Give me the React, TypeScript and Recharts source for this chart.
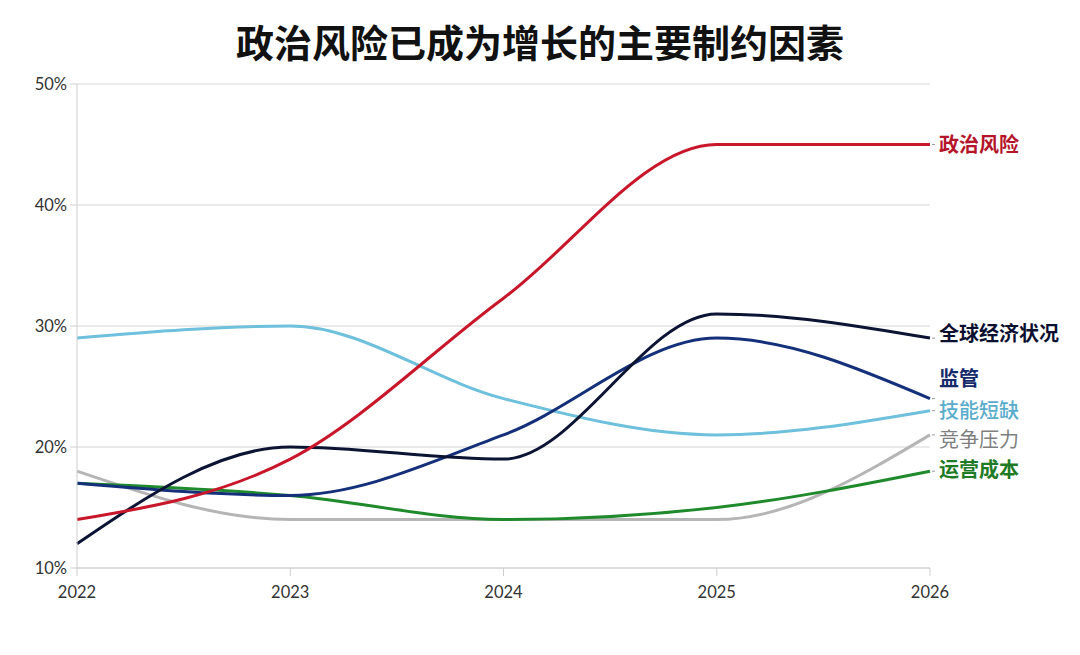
import React from "react";
import { LineChart, Line, XAxis, YAxis, CartesianGrid } from "recharts";

const years = ["2022", "2023", "2024", "2025", "2026"];
const politicalRisk = [14, 19, 32.3, 45, 45];
const globalEconomy = [12, 20, 19, 31, 29];
const regulation = [17, 16, 21, 29, 24];
const skillsShortage = [29, 30, 24, 21, 23];
const competition = [18, 14, 14, 14, 21];
const operatingCost = [17, 16, 14, 15, 18];
const yTicks = [10, 20, 30, 40, 50];

const data = years.map((y, i) => ({
  year: y,
  political: politicalRisk[i],
  economy: globalEconomy[i],
  regulation: regulation[i],
  skills: skillsShortage[i],
  competition: competition[i],
  cost: operatingCost[i],
}));

const FONT = "'Noto Sans CJK SC', 'Noto Sans', sans-serif";
const TICK_FONT = "Lato, 'Noto Sans', sans-serif";

type SeriesDef = {
  key: string;
  name: string;
  color: string;
  labelColor: string;
  weight: number;
  dy: number;
};

const series: SeriesDef[] = [
  { key: "competition", name: "竞争压力", color: "#b5b5b5", labelColor: "#7f7f7f", weight: 400, dy: 5 },
  { key: "skills", name: "技能短缺", color: "#6ec0dc", labelColor: "#5aaccc", weight: 500, dy: 0 },
  { key: "cost", name: "运营成本", color: "#1f8a2b", labelColor: "#1f7a26", weight: 700, dy: -1 },
  { key: "regulation", name: "监管", color: "#14307a", labelColor: "#16296b", weight: 700, dy: -20 },
  { key: "economy", name: "全球经济状况", color: "#0b1433", labelColor: "#0b1030", weight: 700, dy: -4 },
  { key: "political", name: "政治风险", color: "#c8162a", labelColor: "#b5152a", weight: 600, dy: 0 },
];

const makeLabel = (s: SeriesDef) => (props: any) => {
  const { x, y, index } = props;
  if (index !== years.length - 1) return null;
  return (
    <g>
      <line x1={x + 2} x2={x + 5} y1={y} y2={y} stroke="#999" strokeWidth={1} />
      <text
        x={x + 9}
        y={y + s.dy}
        dy={7}
        fill={s.labelColor}
        fontSize={20}
        fontWeight={s.weight}
        fontFamily={FONT}
        textAnchor="start"
      >
        {s.name}
      </text>
    </g>
  );
};

export default function App() {
  return (
    <div style={{ position: "absolute", left: 0, top: 0, width: 1080, height: 655, background: "#fff" }}>
      <div
        style={{
          position: "absolute",
          left: 0,
          top: 13,
          width: 1080,
          textAlign: "center",
          fontFamily: FONT,
          fontSize: 38,
          fontWeight: 700,
          color: "#111",
          lineHeight: "56px",
        }}
      >
        政治风险已成为增长的主要制约因素
      </div>
      <LineChart
        width={1080}
        height={655}
        data={data}
        margin={{ top: 84, right: 150, bottom: 57, left: 17 }}
        style={{ position: "absolute", left: 0, top: 0 }}
      >
        <CartesianGrid vertical={false} stroke="#d4d4d4" strokeWidth={1} />
        <XAxis
          dataKey="year"
          height={30}
          stroke="#cfcfcf"
          tickLine={{ stroke: "#cfcfcf" }}
          tickSize={8}
          tick={{ fill: "#333", fontSize: 16.5, fontFamily: TICK_FONT }}
          tickMargin={10}
          interval={0}
          padding={{ left: 0, right: 0 }}
        />
        <YAxis
          width={60}
          domain={[10, 50]}
          ticks={yTicks}
          stroke="#cfcfcf"
          tickLine={{ stroke: "#cfcfcf" }}
          tickSize={7}
          tickMargin={3}
          tickFormatter={(v: number) => `${v}%`}
          tick={{ fill: "#333", fontSize: 16.5, fontFamily: TICK_FONT }}
          allowDataOverflow
        />
        {series.map((s) => (
          <Line
            key={s.key}
            type="monotone"
            dataKey={s.key}
            stroke={s.color}
            strokeWidth={3}
            dot={false}
            activeDot={false}
            isAnimationActive={false}
            label={makeLabel(s)}
          />
        ))}
      </LineChart>
    </div>
  );
}
